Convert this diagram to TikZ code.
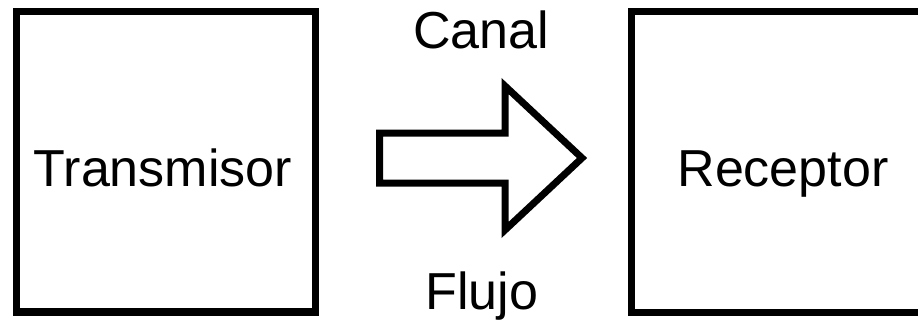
\documentclass[tikz,border=0pt]{standalone}
\usepackage{fontspec}
\setmainfont{Liberation Sans}
\usetikzlibrary{positioning}
\definecolor{cink}{HTML}{000000}
\tikzset{
  every picture/.style={font=\fontsize{37}{42}\selectfont, line width=0.175cm},
  bloque/.style={draw=cink, fill=white, minimum width=#1, minimum height=7.51cm, inner sep=0pt},
  rotulo/.style={text=cink, anchor=base, inner sep=0pt},
  flecha/.style={draw=cink, fill=white, line join=miter},
}
\begin{document}
\begin{tikzpicture}[x=0.025cm, y=-0.025cm]
  \useasboundingbox (0,0) rectangle (918,325);
  % los dos bloques
  \node[bloque=7.475cm] (tx) at (166,161.75) {};
  \node[bloque=7.575cm] (rx) at (783,162) {};
  \node[rotulo] (txt) at (163,186) {Transmisor};
  \node[rotulo] (rxt) at (783,186) {Receptor};
  % la flecha del canal
  \draw[flecha] (379.5,133) -- (505,133) -- (505,86) -- (582,158) -- (505,230) -- (505,183) -- (379.5,183) -- cycle;
  \node[rotulo] (canal) at (481,48) {Canal};
  \node[rotulo] (flujo) at (482,309) {Flujo};
\end{tikzpicture}
\end{document}
